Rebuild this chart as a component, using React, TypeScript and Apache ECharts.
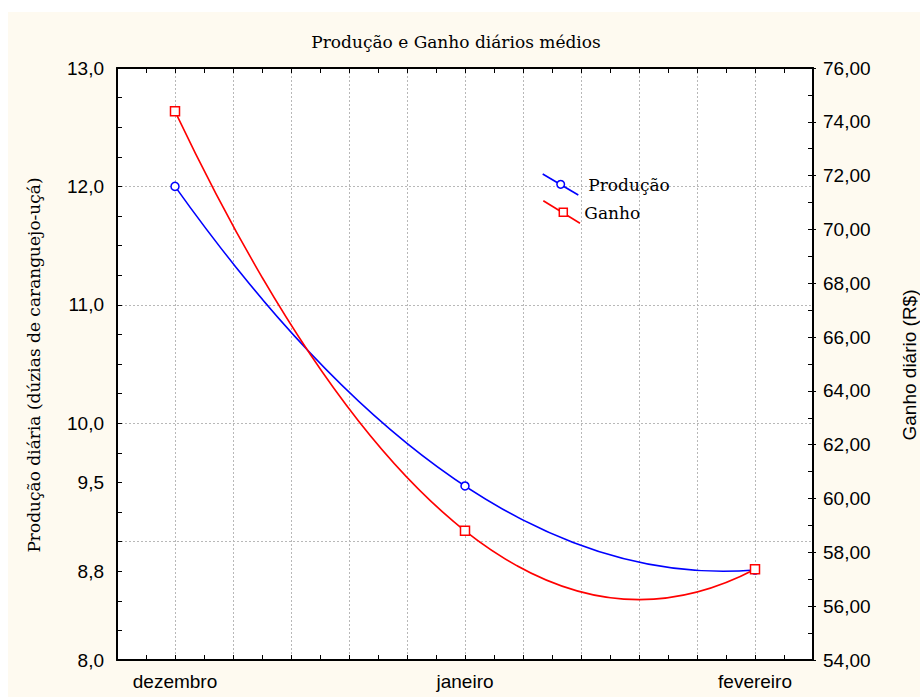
import React, { useEffect, useRef } from 'react';
import * as echarts from 'echarts';

// ---- data ----
const months = ['dezembro', 'janeiro', 'fevereiro'];
const producao = [12.0, 9.47, 8.76];
const ganho = [74.39, 58.8, 57.37];
const leftTickLabels: [number, string][] = [
  [13, '13,0'],
  [12, '12,0'],
  [11, '11,0'],
  [10, '10,0'],
  [9.5, '9,5'],
  [8.75, '8,8'],
  [8, '8,0'],
];
const titleText = 'Produção e Ganho diários médios';
const leftAxisName = 'Produção diária (dúzias de caranguejo-uçá)';
const rightAxisName = 'Ganho diário (R$)';
const seriesNames = ['Produção', 'Ganho'];

const SANS = '"Liberation Sans", Arial, sans-serif';
const SERIF = '"DejaVu Serif", serif';
const BLUE = '#0000ff';
const RED = '#ff0000';
const GRID = { type: [2, 2] as any, color: '#b8b8b8', width: 1 };

const curveItem = (vals: number[], color: string) => (params: any, api: any) => {
  if (params.dataIndex !== 0) return null;
  const p = vals.map((v, i) => api.coord([i, v]));
  const cx = 2 * p[1][0] - (p[0][0] + p[2][0]) / 2;
  const cy = 2 * p[1][1] - (p[0][1] + p[2][1]) / 2;
  return {
    type: 'bezierCurve',
    shape: { x1: p[0][0], y1: p[0][1], x2: p[2][0], y2: p[2][1], cpx1: cx, cpy1: cy },
    style: { stroke: color, lineWidth: 1.6, fill: 'none' },
  };
};

export default function App() {
  const ref = useRef<HTMLDivElement>(null);
  useEffect(() => {
    const chart = echarts.init(ref.current!, null, { renderer: 'svg' });
    const axisLine = { show: true, onZero: false, lineStyle: { color: '#000', width: 2 } };
    const tick = { show: true, inside: true, length: 5, lineStyle: { color: '#000', width: 1 } };
    const minor = { show: true, splitNumber: 2, length: 5, lineStyle: { color: '#000', width: 1 } };
    const option: any = {
      animation: false,
      grid: {
        left: 109,
        right: 107,
        top: 56,
        bottom: 37,
        show: true,
        backgroundColor: '#ffffff',
        borderWidth: 0,
      },
      xAxis: [
        {
          type: 'value',
          position: 'bottom',
          min: -0.2,
          max: 2.2,
          interval: 0.2,
          axisLine,
          axisTick: tick,
          minorTick: minor,
          splitLine: { show: true, showMinLine: false, showMaxLine: false, lineStyle: GRID },
          axisLabel: {
            margin: 12,
            fontFamily: SANS,
            fontSize: 19,
            color: '#000',
            formatter: (v: number) => {
              const r = Math.round(v);
              return Math.abs(v - r) < 1e-6 && months[r] ? months[r] : '';
            },
          },
        },
        {
          type: 'value',
          position: 'top',
          min: -0.2,
          max: 2.2,
          interval: 0.2,
          axisLine,
          axisTick: tick,
          minorTick: minor,
          splitLine: { show: false },
          axisLabel: { show: false },
        },
      ],
      yAxis: [
        {
          type: 'value',
          position: 'left',
          min: 8,
          max: 13,
          interval: 0.25,
          axisLine,
          axisTick: tick,
          splitLine: { show: false },
          axisLabel: {
            margin: 13,
            fontFamily: SANS,
            fontSize: 19,
            color: '#000',
            formatter: (v: number) => {
              const f = leftTickLabels.find((t) => Math.abs(t[0] - v) < 1e-6);
              return f ? f[1] : '';
            },
          },
        },
        {
          type: 'value',
          position: 'right',
          min: 54,
          max: 76,
          interval: 2,
          axisLine,
          axisTick: tick,
          minorTick: minor,
          splitLine: { show: false },
          axisLabel: {
            margin: 10,
            fontFamily: SANS,
            fontSize: 19,
            color: '#000',
            formatter: (v: number) => v.toFixed(2).replace('.', ','),
          },
        },
        {
          type: 'value',
          position: 'left',
          min: 8,
          max: 13,
          interval: 1,
          axisLine: { show: false, onZero: false },
          axisTick: { show: false },
          axisLabel: { show: false },
          splitLine: { show: true, showMinLine: false, showMaxLine: false, lineStyle: GRID },
        },
        {
          type: 'value',
          position: 'right',
          min: 54,
          max: 76,
          interval: 2,
          axisLine: { show: false, onZero: false },
          axisTick: { show: true, inside: false, length: 3, lineStyle: { color: '#000', width: 1 } },
          axisLabel: { show: false },
          splitLine: { show: false },
        },
      ],
      series: [
        {
          type: 'custom',
          name: seriesNames[0],
          xAxisIndex: 0,
          yAxisIndex: 0,
          z: 2,
          data: producao.map((v, i) => [i, v]),
          renderItem: curveItem(producao, BLUE),
        },
        {
          type: 'custom',
          name: seriesNames[1],
          xAxisIndex: 0,
          yAxisIndex: 1,
          z: 2,
          data: ganho.map((v, i) => [i, v]),
          renderItem: curveItem(ganho, RED),
        },
        {
          type: 'scatter',
          name: seriesNames[0],
          xAxisIndex: 0,
          yAxisIndex: 0,
          z: 3,
          symbol: 'circle',
          symbolSize: 8,
          itemStyle: { color: '#ffffff', borderColor: BLUE, borderWidth: 1.5, opacity: 1 },
          data: producao.map((v, i) => [i, v]),
        },
        {
          type: 'scatter',
          name: seriesNames[1],
          xAxisIndex: 0,
          yAxisIndex: 1,
          z: 4,
          symbol: 'rect',
          symbolSize: 9,
          itemStyle: { color: '#ffffff', borderColor: RED, borderWidth: 1.5, opacity: 1 },
          data: ganho.map((v, i) => [i, v]),
        },
      ],
      graphic: [
        {
          type: 'text',
          x: 448,
          y: 30,
          style: { text: titleText, font: `17px ${SERIF}`, fill: '#000', align: 'center', verticalAlign: 'middle' },
        },
        {
          type: 'text',
          x: 26,
          y: 353,
          rotation: Math.PI / 2,
          style: { text: leftAxisName, font: `17px ${SERIF}`, fill: '#000', align: 'center', verticalAlign: 'middle' },
        },
        {
          type: 'text',
          x: 901,
          y: 353,
          rotation: Math.PI / 2,
          style: { text: rightAxisName, font: `19px ${SANS}`, fill: '#000', align: 'center', verticalAlign: 'middle' },
        },
        // legend
        { type: 'line', shape: { x1: 534.7, y1: 162, x2: 570.3, y2: 183 }, style: { stroke: BLUE, lineWidth: 1.6 }, z: 10 },
        { type: 'circle', shape: { cx: 552.7, cy: 172.3, r: 3.8 }, style: { fill: '#fff', stroke: BLUE, lineWidth: 1.5 }, z: 11 },
        {
          type: 'text',
          x: 580.3,
          y: 173,
          z: 11,
          style: { text: seriesNames[0], font: `17px ${SERIF}`, fill: '#000', align: 'left', verticalAlign: 'middle' },
        },
        { type: 'line', shape: { x1: 535.3, y1: 188.7, x2: 572, y2: 211.3 }, style: { stroke: RED, lineWidth: 1.6 }, z: 10 },
        { type: 'rect', shape: { x: 551.3, y: 196.3, width: 8, height: 8 }, style: { fill: '#fff', stroke: RED, lineWidth: 1.5 }, z: 11 },
        {
          type: 'text',
          x: 576.3,
          y: 201.3,
          z: 11,
          style: { text: seriesNames[1], font: `17px ${SERIF}`, fill: '#000', align: 'left', verticalAlign: 'middle' },
        },
      ],
    };
    chart.setOption(option);
    return () => chart.dispose();
  }, []);
  return (
    <div
      ref={ref}
      style={{ position: 'fixed', left: 8, top: 12, width: 912, height: 685, background: '#FEFAF0' }}
    />
  );
}
